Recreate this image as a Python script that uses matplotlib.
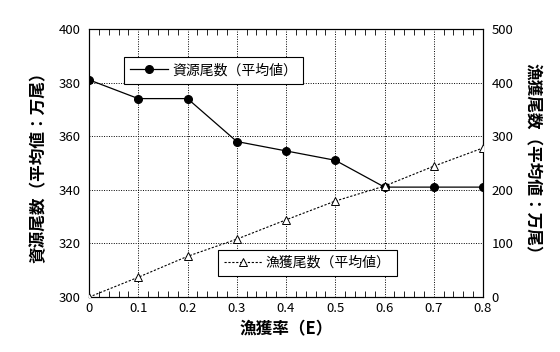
import matplotlib
matplotlib.use("Agg")
import matplotlib.pyplot as plt
from matplotlib.ticker import MultipleLocator

plt.rcParams['font.family'] = ['Noto Sans CJK JP', 'DejaVu Sans']

rate = [0, 0.1, 0.2, 0.3, 0.4, 0.5, 0.6, 0.7, 0.8]
resource = [381, 374, 374, 358, 354.5, 351, 341, 341, 341]
catch = [0, 37, 76, 108, 144, 179, 207, 244, 278]

fig = plt.figure(figsize=(5.6, 3.52), dpi=100)
ax = fig.add_axes([0.159, 0.156, 0.7035, 0.762])
ax2 = ax.twinx()

l1, = ax.plot(rate, resource, color='black', lw=0.9, marker='o', ms=5.5,
              mfc='black', mec='black', label='資源尾数（平均値）', zorder=3)
l2, = ax2.plot(rate, catch, color='black', lw=0.8, ls=(0, (2, 1.5)), marker='^', ms=5.5,
               mfc='white', mec='black', mew=0.7, label='漁獲尾数（平均値）', zorder=3)

ax.set_xlim(0, 0.8)
ax.set_ylim(300, 400)
ax2.set_ylim(0, 500)
ax.xaxis.set_minor_locator(MultipleLocator(0.02))
ax.yaxis.set_major_locator(MultipleLocator(20))
ax2.yaxis.set_major_locator(MultipleLocator(100))
ax.set_xticks(rate)
ax.set_xticklabels(['0', '0.1', '0.2', '0.3', '0.4', '0.5', '0.6', '0.7', '0.8'])

ax.grid(True, which='major', color='black', ls=(0, (1, 1.5)), lw=0.7)
ax.tick_params(axis='x', which='both', direction='in', top=True, bottom=True, labelsize=9.5)
ax.tick_params(axis='x', which='major', length=0)
ax.tick_params(axis='x', which='minor', length=4)
ax.tick_params(axis='y', which='both', length=0, labelsize=9.5, pad=6)
ax2.tick_params(axis='y', which='both', length=0, labelsize=9.5, pad=6)

for a in (ax, ax2):
    for s in a.spines.values():
        s.set_linewidth(0.8)
        s.set_color('black')

ax.set_xlabel('漁獲率（E）', fontsize=12, fontweight='bold', labelpad=4)
ax.set_ylabel('資源尾数（平均値：万尾）', fontsize=12, fontweight='bold', labelpad=8)
ax2.set_ylabel('漁獲尾数（平均値：万尾）', fontsize=12, fontweight='bold', rotation=-90, labelpad=20)

leg1 = ax.legend(handles=[l1], loc='upper left', bbox_to_anchor=(0.089, 0.895),
                 fontsize=10, frameon=True, fancybox=False, edgecolor='black',
                 framealpha=1, borderpad=0.45, handlelength=2.7, handletextpad=0.3,
                 borderaxespad=0)
leg1.get_frame().set_linewidth(0.8)
leg2 = ax2.legend(handles=[l2], loc='lower left', bbox_to_anchor=(0.327, 0.078),
                  fontsize=10, frameon=True, fancybox=False, edgecolor='black',
                  framealpha=1, borderpad=0.45, handlelength=2.7, handletextpad=0.3,
                  borderaxespad=0)
leg2.get_frame().set_linewidth(0.8)

fig.savefig('out.png', dpi=100)
